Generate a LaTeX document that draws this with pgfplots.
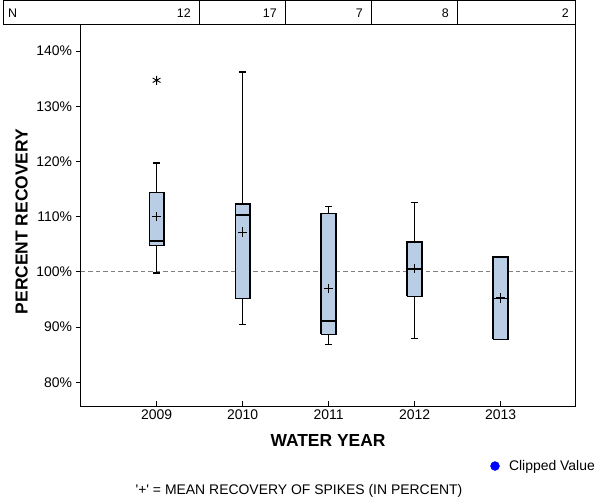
\documentclass[border=0pt]{standalone}
\usepackage{pgfplots}
\pgfplotsset{compat=1.18}
\usepackage{fontspec}
\setmainfont{Liberation Sans}
\definecolor{boxblue}{RGB}{185,205,229}
\begin{document}
\begin{tikzpicture}
\useasboundingbox (0bp,0bp) rectangle (600bp,500bp);
% N row (table of counts above the plot)
\draw[line width=1bp] (3.8bp,499.5bp) rectangle (575bp,475bp);
\foreach \xx in {199.5,285.5,371.5,457.5} \draw[line width=1bp] (\xx bp,499.5bp) -- (\xx bp,475bp);
\begin{scope}[every node/.style={font=\fontsize{12.5}{14}\selectfont, inner sep=0pt}]
\node[anchor=west] at (8bp,487bp) {N};
\node[anchor=east] at (191bp,487bp) {12};
\node[anchor=east] at (277bp,487bp) {17};
\node[anchor=east] at (363bp,487bp) {7};
\node[anchor=east] at (449bp,487bp) {8};
\node[anchor=east] at (569bp,487bp) {2};
\end{scope}
\begin{axis}[
  at={(80.5bp,93.7bp)}, anchor=south west,
  width=494.5bp, height=381.3bp, scale only axis,
  xmin=-0.885, xmax=4.866, ymin=75.65, ymax=144.71,
  xtick={0,1,2,3,4}, xticklabels={2009,2010,2011,2012,2013},
  ytick={80,90,100,110,120,130,140},
  yticklabel={\pgfmathprintnumber{\tick}\%},
  /pgf/number format/assume math mode=true,
  ticklabel style={font=\fontsize{14}{16}\selectfont},
  tick pos=left,
  xtick align=inside, ytick align=outside,
  major tick length=5bp,
  tick style={black, line width=1bp},
  axis line style={line width=1bp},
  unbounded coords=jump,
  legend style={draw=none, fill=none, font=\fontsize{14}{16}\selectfont,
    at={(1.0445,-0.1566)}, anchor=east, inner sep=0pt},
  legend image code/.code={\fill[blue] (0bp,0bp) circle (4.5bp); \path[draw=none] (-4.5bp,0bp) -- (12bp,0bp);},
]
\addlegendimage{blue}
\addlegendentry{Clipped Value}
% reference line at 100 %
\addplot[forget plot, gray, line width=1bp, dash pattern=on 4.5bp off 3bp] coordinates {(-0.885,100) (4.866,100)};
% whiskers with caps (quartile to whisker end)
\addplot[forget plot, black, line width=1.2bp] coordinates {
  (0,99.8) (0,104.8) (0,nan) (-0.041,99.8) (0.041,99.8) (0,nan)
  (0,114.4) (0,119.7) (0,nan) (-0.041,119.7) (0.041,119.7) (0,nan)
  (1,90.5) (1,95.2) (1,nan) (0.959,90.5) (1.041,90.5) (1,nan)
  (1,112.3) (1,136.2) (1,nan) (0.959,136.2) (1.041,136.2) (1,nan)
  (2,86.9) (2,88.7) (2,nan) (1.959,86.9) (2.041,86.9) (2,nan)
  (2,110.6) (2,111.9) (2,nan) (1.959,111.9) (2.041,111.9) (2,nan)
  (3,88.0) (3,95.6) (3,nan) (2.959,88.0) (3.041,88.0) (3,nan)
  (3,105.4) (3,112.6) (3,nan) (2.959,112.6) (3.041,112.6)
};
% boxes: lower quartile to upper quartile
\addplot[forget plot, draw=black, fill=boxblue, line width=1.2bp, line join=miter] coordinates {(-0.087,104.8) (0.087,104.8) (0.087,114.4) (-0.087,114.4) (-0.087,104.8)};
\addplot[forget plot, draw=black, fill=boxblue, line width=1.2bp, line join=miter] coordinates {(0.913,95.2) (1.087,95.2) (1.087,112.3) (0.913,112.3) (0.913,95.2)};
\addplot[forget plot, draw=black, fill=boxblue, line width=1.2bp, line join=miter] coordinates {(1.913,88.7) (2.087,88.7) (2.087,110.6) (1.913,110.6) (1.913,88.7)};
\addplot[forget plot, draw=black, fill=boxblue, line width=1.2bp, line join=miter] coordinates {(2.913,95.6) (3.087,95.6) (3.087,105.4) (2.913,105.4) (2.913,95.6)};
\addplot[forget plot, draw=black, fill=boxblue, line width=1.2bp, line join=miter] coordinates {(3.913,87.8) (4.087,87.8) (4.087,102.7) (3.913,102.7) (3.913,87.8)};
% medians
\addplot[forget plot, black, line width=1.2bp] coordinates {
  (-0.087,105.6) (0.087,105.6) (0,nan)
  (0.913,110.3) (1.087,110.3) (1,nan)
  (1.913,91.1) (2.087,91.1) (2,nan)
  (2.913,100.5) (3.087,100.5) (3,nan)
  (3.913,95.2) (4.087,95.2)
};
% means
\addplot[forget plot, only marks, mark=+, mark size=4.7bp, black, line width=1bp]
  coordinates {(0,110.0) (1,107.2) (2,97.0) (3,100.6) (4,95.3)};
% outlier
\addplot[forget plot, only marks, mark=asterisk, mark size=4.5bp, black, line width=0.9bp]
  coordinates {(0,134.7)};
\end{axis}
\node[font=\bfseries\fontsize{17.5}{20}\selectfont] at (328bp,59bp) {WATER YEAR};
\node[font=\bfseries\fontsize{17.5}{20}\selectfont, rotate=90] at (21.5bp,278.5bp) {PERCENT RECOVERY};
\node[font=\fontsize{14}{16}\selectfont] at (299bp,9bp) {\textquotesingle+\textquotesingle{} = MEAN RECOVERY OF SPIKES (IN PERCENT)};
\end{tikzpicture}
\end{document}
